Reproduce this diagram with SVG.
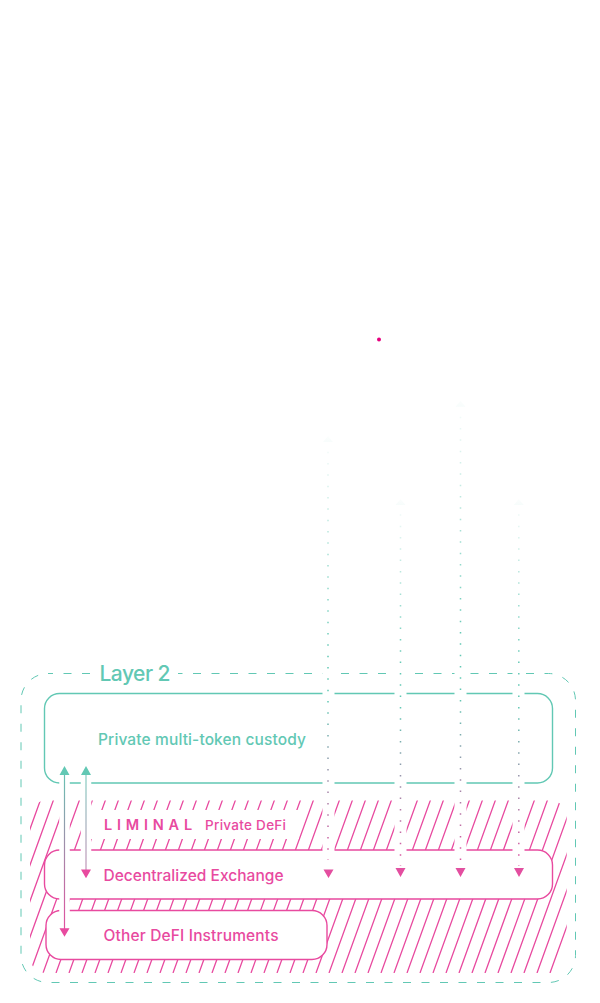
<svg xmlns="http://www.w3.org/2000/svg" width="600" height="1003" viewBox="0 0 600 1003">
<style>
text{font-family:"Inter","Noto Sans","Liberation Sans",sans-serif;font-weight:450}
.t{fill:#62c8b4}.p{fill:#e84a9f}
.box{fill:#fff;stroke-width:1.4}
.h{stroke:#e84a9f;stroke-width:1.3;fill:none}
.halo{stroke:#fff;fill:none}
.dots{fill:none;stroke-width:1.5;stroke-dasharray:1.5 9.83}
</style>
<defs>
<clipPath id="hc"><rect x="30" y="800.5" width="536.7" height="172.5" rx="16"/></clipPath>
<linearGradient id="g1" gradientUnits="userSpaceOnUse" x1="0" y1="436" x2="0" y2="878"><stop offset="0" stop-color="#62c8b4" stop-opacity=".02"/><stop offset=".5" stop-color="#62c8b4"/><stop offset=".6" stop-color="#62c8b4"/><stop offset="1" stop-color="#e84a9f"/></linearGradient>
<linearGradient id="g2" gradientUnits="userSpaceOnUse" x1="0" y1="499" x2="0" y2="878"><stop offset="0" stop-color="#62c8b4" stop-opacity=".02"/><stop offset=".45" stop-color="#62c8b4"/><stop offset=".55" stop-color="#62c8b4"/><stop offset="1" stop-color="#e84a9f"/></linearGradient>
<linearGradient id="g3" gradientUnits="userSpaceOnUse" x1="0" y1="400" x2="0" y2="878"><stop offset="0" stop-color="#62c8b4" stop-opacity=".02"/><stop offset=".5" stop-color="#62c8b4"/><stop offset=".62" stop-color="#62c8b4"/><stop offset="1" stop-color="#e84a9f"/></linearGradient>
<linearGradient id="ga" gradientUnits="userSpaceOnUse" x1="0" y1="766" x2="0" y2="937"><stop offset="0" stop-color="#62c8b4"/><stop offset="1" stop-color="#e84a9f"/></linearGradient>
</defs>

<circle id="dot" cx="379" cy="339.5" r="2" fill="#e6007e"/>

<g id="layer2">
<rect x="21" y="673.5" width="554.5" height="309" rx="27" fill="none" stroke="#62c8b4" stroke-width="1" stroke-dasharray="8 10.5" stroke-dashoffset="3"/>
<rect x="92" y="665" width="86" height="18" fill="#fff"/>
<text class="t" x="99.500" y="681" font-size="21" textLength="71">Layer 2</text>
</g>

<g id="custody">
<rect class="box" x="44.500" y="693.500" width="508" height="89.500" rx="15" stroke="#62c8b4"/>
<text class="t" x="98" y="745" font-size="15.500" textLength="208">Private multi-token custody</text>
</g>

<g id="hatch" clip-path="url(#hc)">
<path class="h" d="M4 973l65-180M17 973l65-180M30 973l65-180M43 973l65-180M56 973l65-180M69 973l65-180M82 973l65-180M95 973l65-180M108 973l65-180M121 973l65-180M134 973l65-180M147 973l65-180M160 973l65-180M173 973l65-180M186 973l65-180M199 973l65-180M212 973l65-180M225 973l65-180M238 973l65-180M251 973l65-180M264 973l65-180M277 973l65-180M290 973l65-180M303 973l65-180M316 973l65-180M329 973l65-180M342 973l65-180M355 973l65-180M368 973l65-180M381 973l65-180M394 973l65-180M407 973l65-180M420 973l65-180M433 973l65-180M446 973l65-180M459 973l65-180M472 973l65-180M485 973l65-180M498 973l65-180M511 973l65-180M524 973l65-180M537 973l65-180M550 973l65-180M-9 973l65-180M-22 973l65-180"/>
</g>

<g id="liminal">
<rect x="85" y="810" width="214" height="29" fill="#fff"/>
<text class="p" x="104" y="830" font-size="14.500" style="font-weight:600" letter-spacing="4.800">LIMINAL</text>
<text class="p" x="205" y="830" font-size="13.500" textLength="81">Private DeFi</text>
</g>

<g id="exchange">
<rect class="box" x="44.500" y="850" width="508" height="49" rx="15" stroke="#e84a9f"/>
<text class="p" x="103.500" y="881" font-size="15.500" textLength="180">Decentralized Exchange</text>
</g>

<g id="other">
<rect class="box" x="46" y="910.500" width="281" height="49" rx="15" stroke="#e84a9f"/>
<text class="p" x="103.500" y="941" font-size="15.500" textLength="175">Other DeFI Instruments</text>
</g>

<g id="connectors">
<path class="halo" stroke-width="12" d="M328.500 660V858M400.500 660V858M460.500 660V858M518.500 660V858"/>
<path class="halo" stroke-width="10.500" d="M64.500 775V928M86 775V868"/>
<path class="dots" stroke="url(#g1)" d="M328 451.700V860"/>
<path class="dots" stroke="url(#g2)" d="M400.500 514.300V866"/>
<path class="dots" stroke="url(#g3)" d="M460.500 416.700V866"/>
<path class="dots" stroke="url(#g2)" d="M518.800 514.300V866"/>
<path fill="url(#g1)" d="M328 436l5 6h-10zM323.500 869.500h10l-5 8.500z"/>
<path fill="url(#g2)" d="M400.500 499l5 6h-10zM395.500 868h10l-5 9zM518.800 499l5 6h-10zM514 868h10l-5 9z"/>
<path fill="url(#g3)" d="M460.500 400.700l5 6h-10zM455.500 868h10l-5 9z"/>
<path fill="none" stroke="url(#ga)" stroke-width="1.200" d="M64.500 772V930"/>
<path fill="none" stroke="url(#ga)" stroke-width="1.800" stroke-opacity=".55" d="M86 772V871"/>
<path fill="#62c8b4" d="M64.500 766l5 9h-10zM86 766l5 9h-10z"/>
<path fill="#e84a9f" d="M59.500 928.300h10l-5 8.500zM81 869.500h10l-5 8.800z"/>
</g>
</svg>
